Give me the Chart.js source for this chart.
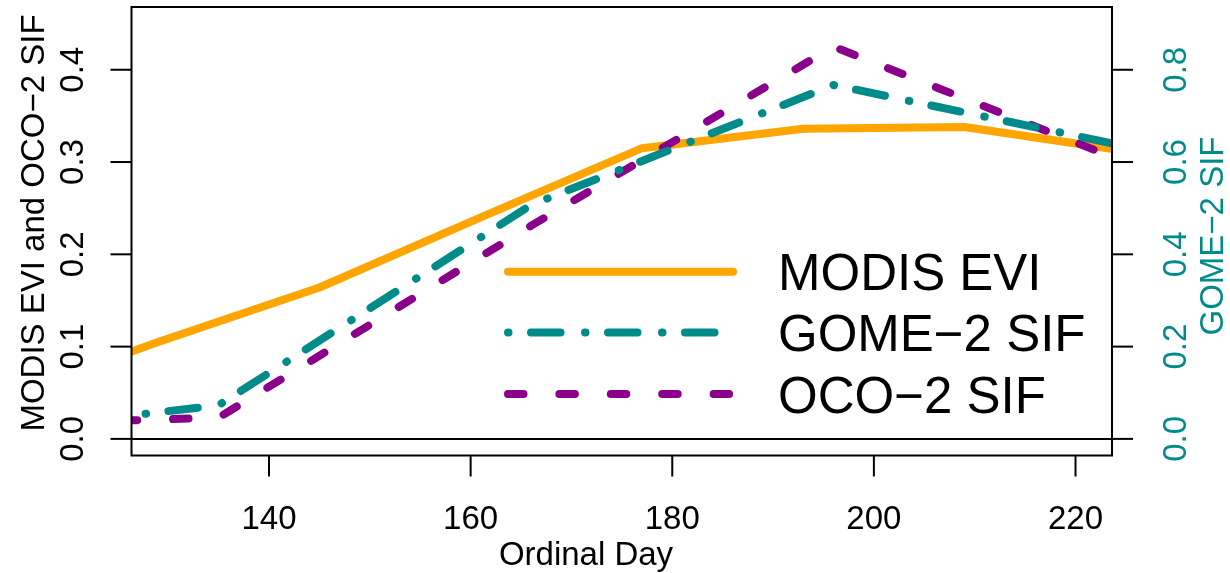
<!DOCTYPE html>
<html>
<head>
<meta charset="utf-8">
<script src="https://cdn.jsdelivr.net/npm/chart.js@4.4.1/dist/chart.umd.min.js"></script>
<style>
  html, body { margin: 0; padding: 0; background: #fff; }
  #wrap { width: 1230px; height: 573px; }
</style>
</head>
<body>
<div id="wrap"><canvas id="sif-chart" width="1230" height="573"></canvas></div>
<script>
// MODIS EVI, 16-day composites (ordinal day / value)
const eviDays = [113, 129, 145, 161, 177, 193, 209, 225];
const eviValues = [0.042, 0.105, 0.164, 0.240, 0.315, 0.336, 0.338, 0.312];

// monthly SIF, plotted at mid-month
const sifDays = [105, 135, 166, 196, 227];
const gomeValues = [-0.004, 0.073, 0.507, 0.767, 0.625]; // right axis
const ocoValues = [0.013, 0.023, 0.231, 0.425, 0.291];    // left axis

// tick labels
const dayTicks = [140, 160, 180, 200, 220];
const leftTicks = [0.0, 0.1, 0.2, 0.3, 0.4];
const rightTicks = [0.0, 0.2, 0.4, 0.6, 0.8];

const seriesNames = ["MODIS EVI", "GOME\u22122 SIF", "OCO\u22122 SIF"];
const colEvi = "#FFA500";
const colGome = "#008B8B";
const colOco = "#8B008B";
const dashGome = [0.5, 22.5, 29.5, 24.5];
const dashOco = [15.5, 35.9];
const LW = 8;

const toPoints = (xs, ys) => xs.map((x, i) => ({ x: x, y: ys[i] }));

const FONT = '"Liberation Sans", Arial, Helvetica, sans-serif';

// draws the R-style frame, axes, titles and legend
const rFrame = {
  id: "rFrame",
  afterDraw(chart) {
    const ctx = chart.ctx;
    const a = chart.chartArea;
    const xs = chart.scales.x;
    const yl = chart.scales.y;
    const yr = chart.scales.y2;
    ctx.save();
    ctx.strokeStyle = "#000";
    ctx.lineWidth = 2;
    ctx.lineCap = "butt";

    // zero line
    const y0 = yl.getPixelForValue(0);
    ctx.beginPath();
    ctx.moveTo(a.left, y0);
    ctx.lineTo(a.right, y0);
    ctx.stroke();

    // box
    ctx.strokeRect(a.left, a.top, a.right - a.left, a.bottom - a.top);

    // x axis
    ctx.fillStyle = "#000";
    ctx.font = "33px " + FONT;
    ctx.textAlign = "center";
    ctx.textBaseline = "alphabetic";
    dayTicks.forEach((d) => {
      const px = xs.getPixelForValue(d);
      ctx.beginPath();
      ctx.moveTo(px, a.bottom);
      ctx.lineTo(px, a.bottom + 21);
      ctx.stroke();
      ctx.fillText(String(d), px, 529);
    });
    ctx.fillText("Ordinal Day", 586, 565);

    const vText = (txt, x, y) => {
      ctx.save();
      ctx.translate(x, y);
      ctx.rotate(-Math.PI / 2);
      ctx.fillText(txt, 0, 0);
      ctx.restore();
    };

    // left axis
    leftTicks.forEach((v) => {
      const py = yl.getPixelForValue(v);
      ctx.beginPath();
      ctx.moveTo(a.left, py);
      ctx.lineTo(a.left - 21, py);
      ctx.stroke();
      vText(v.toFixed(1), 83, py);
    });
    vText("MODIS EVI and OCO\u22122 SIF", 44, 223);

    // right axis
    ctx.fillStyle = colGome;
    rightTicks.forEach((v) => {
      const py = yr.getPixelForValue(v);
      ctx.beginPath();
      ctx.moveTo(a.right, py);
      ctx.lineTo(a.right + 21, py);
      ctx.stroke();
      vText(v.toFixed(1), 1186, py);
    });
    vText("GOME\u22122 SIF", 1223, 236);

    // legend
    const legendY = [271.7, 332.5, 394];
    const legendCol = [colEvi, colGome, colOco];
    const legendDash = [[], dashGome, dashOco];
    ctx.lineWidth = LW;
    ctx.lineCap = "round";
    for (let i = 0; i < 3; i++) {
      ctx.strokeStyle = legendCol[i];
      ctx.setLineDash(legendDash[i]);
      ctx.beginPath();
      ctx.moveTo(508, legendY[i]);
      ctx.lineTo(733, legendY[i]);
      ctx.stroke();
    }
    ctx.setLineDash([]);
    ctx.fillStyle = "#000";
    ctx.font = "51px " + FONT;
    ctx.textAlign = "left";
    for (let i = 0; i < 3; i++) {
      ctx.fillText(seriesNames[i], 778, legendY[i] + 18.5);
    }
    ctx.restore();
  }
};

document.addEventListener("DOMContentLoaded", () => {
  const ctx = document.getElementById("sif-chart").getContext("2d");
  new Chart(ctx, {
    type: "line",
    data: {
      datasets: [
        {
          label: seriesNames[0],
          data: toPoints(eviDays, eviValues),
          borderColor: colEvi,
          yAxisID: "y",
          order: 3
        },
        {
          label: seriesNames[2],
          data: toPoints(sifDays, ocoValues),
          borderColor: colOco,
          borderDash: dashOco,
          yAxisID: "y",
          order: 2
        },
        {
          label: seriesNames[1],
          data: toPoints(sifDays, gomeValues),
          borderColor: colGome,
          borderDash: dashGome,
          yAxisID: "y2",
          order: 1
        }
      ]
    },
    options: {
      responsive: false,
      animation: false,
      layout: {
        padding: { left: 131.5, top: 7, right: 118, bottom: 117.5 }
      },
      elements: {
        point: { radius: 0 },
        line: {
          borderWidth: LW,
          tension: 0,
          borderCapStyle: "round",
          borderJoinStyle: "round",
          fill: false
        }
      },
      datasets: {
        line: { clip: 0 }
      },
      scales: {
        x: { type: "linear", min: 126.36, max: 223.62, display: false },
        y: { type: "linear", min: -0.018, max: 0.468, display: false },
        y2: { type: "linear", min: -0.036, max: 0.936, display: false }
      },
      plugins: {
        legend: { display: false },
        tooltip: { enabled: false }
      }
    },
    plugins: [rFrame]
  });
});
</script>
</body>
</html>
